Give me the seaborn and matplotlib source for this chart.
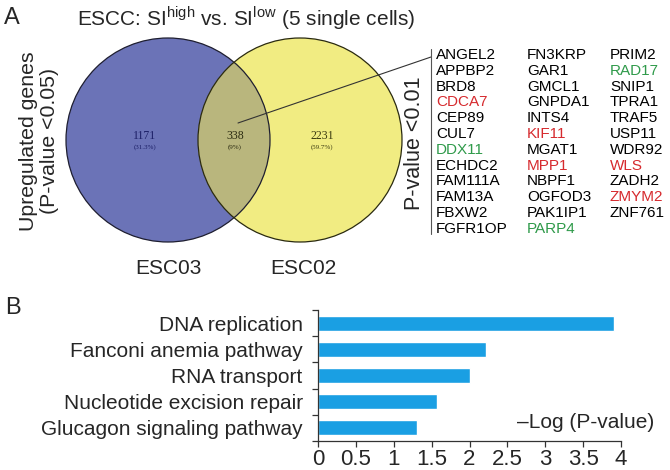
import numpy as np
import pandas as pd
import matplotlib
matplotlib.use("Agg")
import matplotlib.pyplot as plt
from matplotlib.patches import Circle
import seaborn as sns

# --- data ---
set_names = ["ESC03", "ESC02"]
venn_counts = [1171, 338, 2231]
venn_pcts = ["(31.3%)", "(9%)", "(59.7%)"]

genes_col1 = ["ANGEL2", "APPBP2", "BRD8", "CDCA7", "CEP89", "CUL7", "DDX11",
              "ECHDC2", "FAM111A", "FAM13A", "FBXW2", "FGFR1OP"]
genes_col2 = ["FN3KRP", "GAR1", "GMCL1", "GNPDA1", "INTS4", "KIF11", "MGAT1",
              "MPP1", "NBPF1", "OGFOD3", "PAK1IP1", "PARP4"]
genes_col3 = ["PRIM2", "RAD17", "SNIP1", "TPRA1", "TRAF5", "USP11", "WDR92",
              "WLS", "ZADH2", "ZMYM2", "ZNF761"]
red_genes = ["CDCA7", "KIF11", "MPP1", "WLS", "ZMYM2"]
green_genes = ["DDX11", "RAD17", "PARP4"]

pathways = ["DNA replication", "Fanconi anemia pathway", "RNA transport",
            "Nucleotide excision repair", "Glucagon signaling pathway"]
neg_log_p = [3.91, 2.22, 2.0, 1.57, 1.31]

sns.set_style("ticks")
plt.rcParams['font.family'] = ['Liberation Sans', 'DejaVu Sans']
plt.rcParams['mathtext.fontset'] = 'custom'
plt.rcParams['mathtext.rm'] = 'Liberation Sans'
narrow = ['Liberation Sans Narrow', 'Liberation Sans', 'DejaVu Sans']

fig = plt.figure(figsize=(6.7, 4.7), dpi=100)

# overlay axes in pixel coords for panel A
ax0 = fig.add_axes([0, 0, 1, 1])
ax0.set_xlim(0, 670)
ax0.set_ylim(470, 0)
ax0.axis("off")

blue = "#6b73b7"
yellow = "#f1ec82"
mixed = "#b9b67d"
r = 102
c_left = (168, 140)
c_right = (300, 140)

ax0.add_patch(Circle(c_left, r, facecolor=blue, edgecolor="none"))
ax0.add_patch(Circle(c_right, r, facecolor=yellow, edgecolor="none"))
clip = Circle(c_left, r, transform=ax0.transData)
mid = Circle(c_right, r, facecolor=mixed, edgecolor="none")
ax0.add_patch(mid)
mid.set_clip_path(clip)
ax0.add_patch(Circle(c_left, r, facecolor="none", edgecolor="#1e1e30", lw=0.9))
ax0.add_patch(Circle(c_right, r, facecolor="none", edgecolor="#2a2a10", lw=0.9))

num_x = [145, 235, 322]
num_cols = ["#1c1f66", "#2a2a10", "#3a3a10"]
for x, n, p, col in zip(num_x, venn_counts, venn_pcts, num_cols):
    ax0.text(x, 136, str(n), ha="center", va="center", fontsize=8.5,
             family="Liberation Serif", color=col)
    ax0.text(x, 147, p, ha="center", va="center", fontsize=5,
             family="Liberation Serif", color=col)

for x, name in zip([168, 303], set_names):
    ax0.text(x, 268, name, ha="center", va="center", fontsize=15)

ax0.text(246, 18, r"ESCC: SI$^{\mathrm{high}}$ vs. SI$^{\mathrm{low}}$ (5 single cells)",
         ha="center", va="center", fontsize=15)
ax0.text(12, 18, "A", ha="center", va="center", fontsize=17)
ax0.text(13, 308, "B", ha="center", va="center", fontsize=17)
ax0.text(39, 141, "Upregulated genes\n(P-value <0.05)", rotation=90,
         ha="center", va="center", fontsize=15.3, linespacing=1.15)
ax0.text(415, 143, "P-value <0.01", rotation=90, ha="center", va="center",
         fontsize=15.5)

# pointer lines
ax0.plot([238, 431], [123, 57], color="#333333", lw=0.8)
ax0.plot([431, 431], [49, 234], color="#555555", lw=0.8)

# gene list
for xcol, col_genes in zip([436, 527, 610], [genes_col1, genes_col2, genes_col3]):
    for i, g in enumerate(col_genes):
        c = "black"
        if g in red_genes:
            c = "#d62a2e"
        elif g in green_genes:
            c = "#2f9a4a"
        ax0.text(xcol, 55 + i * 15.8, g, ha="left", va="center",
                 fontsize=11, color=c)

# --- panel B: bar chart ---
ax = fig.add_axes([318 / 670, (470 - 441) / 470, 303 / 670, 131 / 470])
df = pd.DataFrame({"pathway": pathways, "value": neg_log_p})
sns.barplot(data=df, x="value", y="pathway", orient="h", color="#1a9fe3",
            saturation=1, width=0.58, ax=ax)
ax.set_xlim(0, 4)
ax.set_ylim(4.5, -0.5)
ax.set_xticks(np.arange(0, 4.01, 0.5))
ax.set_xticklabels(["0", "0.5", "1", "1.5", "2", "2.5", "3", "3.5", "4"],
                   family=narrow)
ax.set_yticks(range(len(pathways)))
ax.set_yticks(np.arange(-0.5, 4.6, 1), minor=True)
ax.tick_params(axis="y", which="major", length=0, pad=11, labelsize=15)
ax.tick_params(axis="y", which="minor", length=4, width=0.9, color="#333333")
ax.tick_params(axis="x", length=4, width=0.9, color="#333333", labelsize=16, pad=1.5)
ax.set_xlabel("")
ax.set_ylabel("")
for s in ["top", "right"]:
    ax.spines[s].set_visible(False)
for s in ["left", "bottom"]:
    ax.spines[s].set_linewidth(0.9)
    ax.spines[s].set_color("#333333")
ax.text(1.11, 0.14, "\u2013Log (P-value)", transform=ax.transAxes,
        ha="right", va="center", fontsize=15)

fig.savefig("out.png", dpi=100)
